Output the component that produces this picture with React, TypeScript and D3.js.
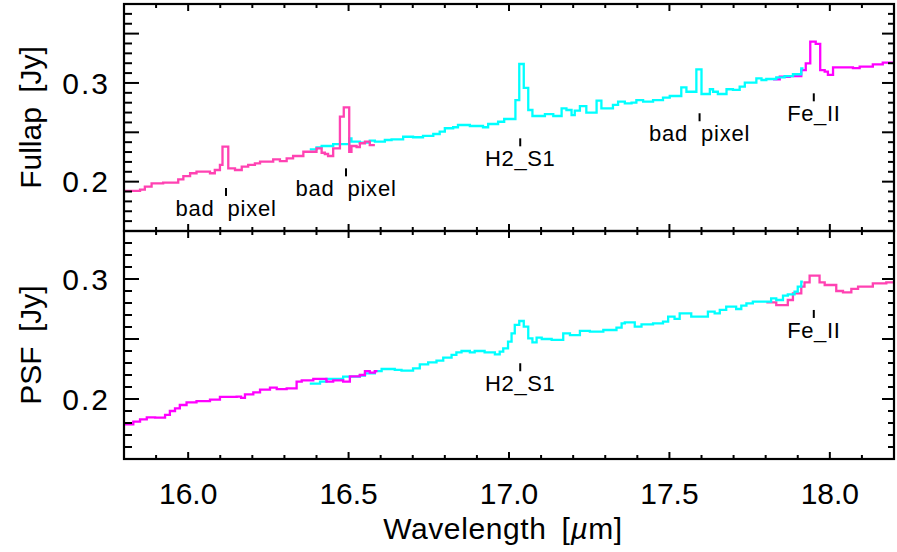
import React from "react";
import * as d3 from "d3";

// ---------- data ----------
const xTickValues = [16.0, 16.5, 17.0, 17.5, 18.0];
const xTickLabels = ["16.0", "16.5", "17.0", "17.5", "18.0"];
const yTickValues = [0.2, 0.3];
const yTickLabels = ["0.2", "0.3"];

// Fullap panel: [wavelength (um), flux (Jy)] bin starts (step)
const fullapOrderA: [number, number][] = [
  [15.8, 0.1906], [15.85, 0.192], [15.865, 0.1949], [15.886, 0.1983], [15.922, 0.199],
  [15.969, 0.2024], [15.985, 0.2057], [16.006, 0.2085], [16.026, 0.2101], [16.068, 0.2085],
  [16.083, 0.2118], [16.099, 0.2169], [16.107, 0.2354], [16.125, 0.2135], [16.146, 0.2118],
  [16.167, 0.2152], [16.187, 0.2169], [16.208, 0.2186], [16.224, 0.2202], [16.265, 0.2226],
  [16.286, 0.2209], [16.307, 0.2236], [16.327, 0.226], [16.359, 0.2303], [16.379, 0.2303],
  [16.4, 0.2338], [16.416, 0.2293], [16.426, 0.228], [16.436, 0.226], [16.452, 0.2338],
  [16.473, 0.2658], [16.485, 0.2753], [16.502, 0.2303], [16.509, 0.2361], [16.525, 0.235],
  [16.535, 0.2389], [16.551, 0.2405], [16.566, 0.2371], [16.582, 0.2371],
];
const fullapOrderB: [number, number][] = [
  [16.379, 0.2327], [16.4, 0.2348], [16.416, 0.2361], [16.452, 0.2381], [16.502, 0.2439],
  [16.509, 0.2405], [16.535, 0.2395], [16.566, 0.2415], [16.582, 0.2405], [16.613, 0.2422],
  [16.634, 0.2429], [16.67, 0.2455], [16.701, 0.245], [16.732, 0.2463], [16.764, 0.2483],
  [16.784, 0.2506], [16.8, 0.2541], [16.826, 0.2551], [16.841, 0.2574], [16.878, 0.2564],
  [16.919, 0.2551], [16.935, 0.2584], [16.966, 0.2607], [16.985, 0.2635], [17.02, 0.2827],
  [17.032, 0.3192], [17.046, 0.295], [17.06, 0.2726], [17.073, 0.2665], [17.112, 0.2685],
  [17.138, 0.2665], [17.164, 0.2743], [17.179, 0.2726], [17.195, 0.2675], [17.205, 0.2719],
  [17.221, 0.2766], [17.241, 0.2699], [17.273, 0.282], [17.288, 0.2743], [17.324, 0.2777],
  [17.34, 0.281], [17.361, 0.2793], [17.382, 0.28], [17.397, 0.2827], [17.418, 0.281],
  [17.449, 0.2827], [17.48, 0.2851], [17.501, 0.2868], [17.537, 0.2956], [17.553, 0.2911],
  [17.584, 0.3138], [17.6, 0.2888], [17.626, 0.2936], [17.636, 0.2911], [17.651, 0.2888],
  [17.678, 0.2936], [17.698, 0.2929], [17.719, 0.2962], [17.735, 0.3003], [17.771, 0.3047],
  [17.787, 0.303], [17.802, 0.304], [17.833, 0.3057], [17.859, 0.307], [17.885, 0.3088],
  [17.911, 0.3148], [17.918, 0.3148],
];
const fullapOrderC: [number, number][] = [
  [17.823, 0.3037], [17.844, 0.3063], [17.875, 0.307], [17.911, 0.3131], [17.925, 0.3199],
  [17.939, 0.3418], [17.956, 0.3395], [17.97, 0.3131], [17.984, 0.3114], [17.994, 0.3081],
  [18.01, 0.3158], [18.072, 0.315], [18.093, 0.3165], [18.134, 0.3189], [18.165, 0.3205],
  [18.2, 0.3215],
];

// PSF panel
const psfOrderA: [number, number][] = [
  [15.8, 0.1789], [15.829, 0.1811], [15.85, 0.1831], [15.871, 0.1847], [15.897, 0.1845],
  [15.928, 0.1867], [15.943, 0.19], [15.959, 0.1922], [15.974, 0.195], [15.995, 0.1972],
  [16.026, 0.1983], [16.068, 0.1994], [16.099, 0.2017], [16.151, 0.202], [16.165, 0.201],
  [16.177, 0.2039], [16.203, 0.2056], [16.224, 0.2078], [16.255, 0.2094], [16.276, 0.2083],
  [16.307, 0.2089], [16.338, 0.2144], [16.354, 0.2156], [16.39, 0.2167], [16.431, 0.2144],
  [16.452, 0.2156], [16.483, 0.2144], [16.504, 0.2189], [16.535, 0.22], [16.551, 0.2233],
  [16.566, 0.2219], [16.582, 0.2233], [16.59, 0.2233],
];
const psfOrderB: [number, number][] = [
  [16.379, 0.2128], [16.411, 0.2144], [16.431, 0.2167], [16.483, 0.2186], [16.535, 0.2195],
  [16.551, 0.2214], [16.582, 0.2233], [16.603, 0.225], [16.644, 0.2242], [16.665, 0.2236],
  [16.701, 0.2256], [16.722, 0.2289], [16.748, 0.2306], [16.774, 0.2319], [16.795, 0.2344],
  [16.821, 0.2367], [16.836, 0.2389], [16.852, 0.24], [16.878, 0.2389], [16.893, 0.24],
  [16.924, 0.2389], [16.956, 0.2372], [16.971, 0.2394], [16.982, 0.2422], [16.997, 0.2478],
  [17.008, 0.2547], [17.018, 0.2617], [17.032, 0.265], [17.046, 0.2603], [17.06, 0.2506],
  [17.073, 0.2472], [17.086, 0.2511], [17.102, 0.25], [17.133, 0.2492], [17.169, 0.2547],
  [17.19, 0.2533], [17.221, 0.2567], [17.252, 0.2561], [17.294, 0.2575], [17.335, 0.2594],
  [17.351, 0.2631], [17.361, 0.2639], [17.392, 0.2603], [17.413, 0.2622], [17.449, 0.2631],
  [17.48, 0.2644], [17.496, 0.2686], [17.516, 0.2667], [17.532, 0.2714], [17.568, 0.2686],
  [17.62, 0.2728], [17.641, 0.2714], [17.657, 0.2742], [17.677, 0.2769], [17.708, 0.275],
  [17.724, 0.2778], [17.74, 0.2797], [17.76, 0.2811], [17.817, 0.2839], [17.833, 0.2825],
  [17.854, 0.2861], [17.869, 0.2872], [17.89, 0.2894], [17.9, 0.2936], [17.911, 0.2978],
  [17.916, 0.2978],
];
const psfOrderC: [number, number][] = [
  [17.802, 0.2806], [17.833, 0.2783], [17.869, 0.2825], [17.885, 0.2881], [17.911, 0.2936],
  [17.921, 0.2972], [17.937, 0.3028], [17.968, 0.2972], [17.984, 0.295], [18.02, 0.29],
  [18.041, 0.2889], [18.067, 0.2917], [18.088, 0.2936], [18.134, 0.2964], [18.176, 0.2972],
  [18.2, 0.2972],
];

// line markers: wavelength, flux at top of marker, label
const fullapMarks: { wave: number; flux: number; label: string }[] = [
  { wave: 16.118, flux: 0.1936, label: "bad pixel" },
  { wave: 16.492, flux: 0.2135, label: "bad pixel" },
  { wave: 17.035, flux: 0.2439, label: "H2_S1" },
  { wave: 17.594, flux: 0.2693, label: "bad pixel" },
  { wave: 17.95, flux: 0.2895, label: "Fe_II" },
];
const psfMarks: { wave: number; flux: number; label: string }[] = [
  { wave: 17.035, flux: 0.2298, label: "H2_S1" },
  { wave: 17.95, flux: 0.2742, label: "Fe_II" },
];

// ---------- layout ----------
const W = 897;
const H = 552;
const X0 = 124;
const X1 = 894;
const FONT = "'Liberation Sans', Arial, sans-serif";
const PINK = "#ff42b2";
const MAGENTA = "#ff00ff";
const CYAN = "#00ffff";

const x = d3.scaleLinear().domain([15.8, 18.2]).range([X0, X1]);

type Panel = {
  key: string;
  title: string;
  y: d3.ScaleLinear<number, number>;
  top: number;
  bottom: number;
  series: { data: [number, number][]; color: string }[];
  marks: { wave: number; flux: number; label: string }[];
};

const panels: Panel[] = [
  {
    key: "fullap",
    title: "Fullap [Jy]",
    y: d3.scaleLinear().domain([0.15, 0.38]).range([231, 4]),
    top: 4,
    bottom: 231,
    series: [
      { data: fullapOrderC, color: MAGENTA },
      { data: fullapOrderB, color: CYAN },
      { data: fullapOrderA, color: PINK },
    ],
    marks: fullapMarks,
  },
  {
    key: "psf",
    title: "PSF [Jy]",
    y: d3.scaleLinear().domain([0.15, 0.34]).range([459, 231]),
    top: 231,
    bottom: 459,
    series: [
      { data: psfOrderC, color: PINK },
      { data: psfOrderB, color: CYAN },
      { data: psfOrderA, color: MAGENTA },
    ],
    marks: psfMarks,
  },
];

const xMinor = d3.range(158, 182 + 1).map((v) => v / 10);
const yMinorOf = (domain: number[]) =>
  d3.range(Math.round(domain[0] * 100), Math.round(domain[1] * 100) + 1).map((v) => v / 100);

function PanelView({ p }: { p: Panel }) {
  const line = d3
    .line<[number, number]>()
    .x((d) => x(d[0]))
    .y((d) => p.y(d[1]))
    .curve(d3.curveStepAfter);
  const yTicks = yMinorOf(p.y.domain());
  const isMajorY = (v: number) => Math.round(v * 100) % 5 === 0;
  const isMajorX = (v: number) => Math.round(v * 10) % 5 === 0;
  const midY = (p.top + p.bottom) / 2;
  return (
    <g>
      <defs>
        <clipPath id={`clip-${p.key}`}>
          <rect x={X0} y={p.top} width={X1 - X0} height={p.bottom - p.top} />
        </clipPath>
      </defs>
      <g clipPath={`url(#clip-${p.key})`}>
        {p.series.map((s, i) => (
          <path
            key={i}
            d={line(s.data) || ""}
            fill="none"
            stroke={s.color}
            strokeWidth={2.3}
            strokeLinejoin="miter"
          />
        ))}
      </g>
      {/* markers */}
      {p.marks.map((m, i) => {
        const mx = x(m.wave);
        const my = p.y(m.flux);
        const isBad = m.label === "bad pixel";
        return (
          <g key={i}>
            <line x1={mx} x2={mx} y1={my} y2={my + 8} stroke="#000" strokeWidth={2} />
            <text
              x={mx}
              y={my + 28}
              textAnchor="middle"
              fontFamily={FONT}
              fontSize={22}
              fill="#000"
              style={isBad ? { wordSpacing: "6px", letterSpacing: "0.8px" } : { letterSpacing: "0.6px" }}
            >
              {m.label}
            </text>
          </g>
        );
      })}
      {/* y ticks */}
      {yTicks.map((v, i) => {
        const yy = p.y(v);
        const maj = isMajorY(v);
        return (
          <g key={`y${i}`} stroke="#000" strokeWidth={2}>
            <line x1={X0} x2={X0 + (maj ? 15 : 8)} y1={yy} y2={yy} />
            <line x1={X1} x2={X1 - (maj ? 12 : 6)} y1={yy} y2={yy} />
          </g>
        );
      })}
      {/* x ticks */}
      {xMinor.map((v, i) => {
        const xx = x(v);
        const len = isMajorX(v) ? 7 : 4;
        return (
          <g key={`x${i}`} stroke="#000" strokeWidth={2}>
            <line x1={xx} x2={xx} y1={p.bottom} y2={p.bottom - len} />
            <line x1={xx} x2={xx} y1={p.top} y2={p.top + len} />
          </g>
        );
      })}
      {/* y tick labels */}
      {yTickValues.map((v, i) => (
        <text
          key={`yl${i}`}
          x={110}
          y={p.y(v)}
          dy="0.36em"
          textAnchor="end"
          fontFamily={FONT}
          fontSize={30}
          fill="#000"
          style={{ letterSpacing: "2px" }}
        >
          {yTickLabels[i]}
        </text>
      ))}
      {/* y title */}
      <text
        transform={`translate(41,${midY}) rotate(-90)`}
        textAnchor="middle"
        fontFamily={FONT}
        fontSize={30}
        fill="#000"
        style={{ wordSpacing: "6px" }}
      >
        {p.title}
      </text>
      <rect
        x={X0}
        y={p.top}
        width={X1 - X0}
        height={p.bottom - p.top}
        fill="none"
        stroke="#000"
        strokeWidth={2.2}
      />
    </g>
  );
}

export default function App() {
  React.useEffect(() => {
    document.body.style.margin = "0";
  }, []);
  return (
    <svg
      width={W}
      height={H}
      viewBox={`0 0 ${W} ${H}`}
      style={{ position: "absolute", left: 0, top: 0, background: "#fff" }}
    >
      <rect width={W} height={H} fill="#fff" />
      {panels.map((p) => (
        <PanelView key={p.key} p={p} />
      ))}
      {xTickValues.map((v, i) => (
        <text
          key={`xl${i}`}
          x={x(v)}
          y={504}
          textAnchor="middle"
          fontFamily={FONT}
          fontSize={30}
          fill="#000"
        >
          {xTickLabels[i]}
        </text>
      ))}
      <text
        x={503}
        y={539}
        textAnchor="middle"
        fontFamily={FONT}
        fontSize={30}
        fill="#000"
        style={{ wordSpacing: "6px", letterSpacing: "0.6px" }}
      >
        Wavelength [<tspan fontStyle="italic">µ</tspan>m]
      </text>
    </svg>
  );
}
